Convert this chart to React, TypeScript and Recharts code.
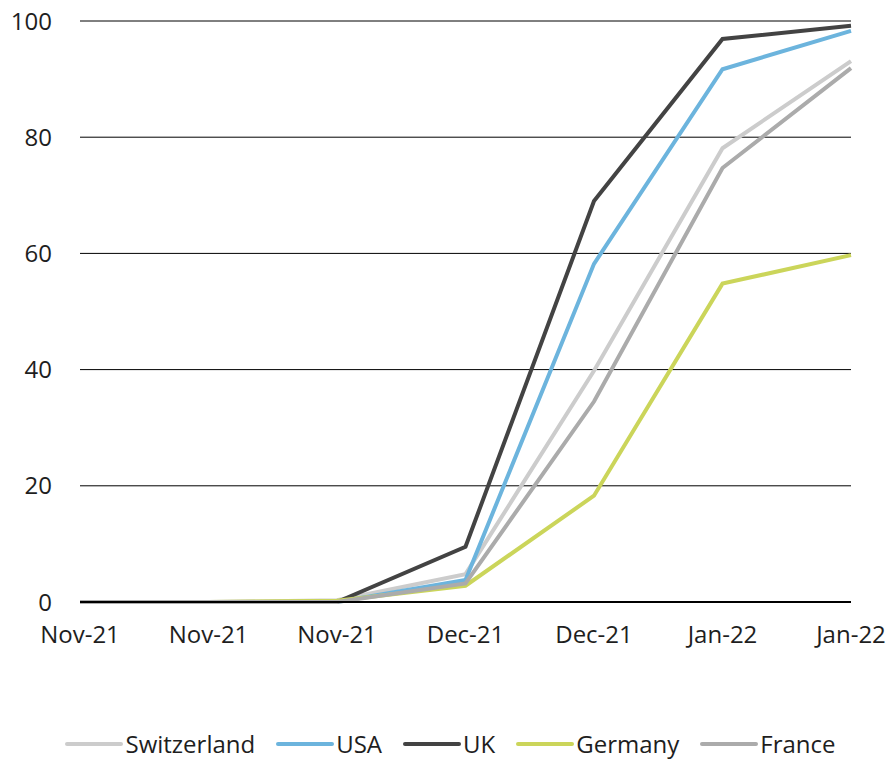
import { LineChart, Line, XAxis, YAxis, CartesianGrid, Legend } from "recharts";

const periods = ["Nov-21", "Nov-21", "Nov-21", "Dec-21", "Dec-21", "Jan-22", "Jan-22"];

const switzerland = [0, 0, 0.3, 4.8, 39.8, 78.1, 93.1];
const usa = [0, 0, 0, 3.8, 58.2, 91.7, 98.3];
const uk = [0, 0, 0, 9.5, 69.0, 96.9, 99.2];
const germany = [0, 0, 0.2, 2.8, 18.3, 54.8, 59.7];
const france = [0, 0, 0, 3.2, 34.5, 74.7, 91.9];

const yTicks = [0, 20, 40, 60, 80, 100];

const series = [
  { key: "Switzerland", color: "#cccccc" },
  { key: "USA", color: "#6cb4dd" },
  { key: "UK", color: "#434343" },
  { key: "Germany", color: "#cbd55a" },
  { key: "France", color: "#ababab" },
];

const data = periods.map((p, i) => ({
  idx: i,
  period: p,
  Switzerland: switzerland[i],
  USA: usa[i],
  UK: uk[i],
  Germany: germany[i],
  France: france[i],
}));

const FONT = "'Open Sans', 'DejaVu Sans', sans-serif";

function LegendRow() {
  return (
    <div
      style={{
        display: "flex",
        justifyContent: "center",
        alignItems: "center",
        fontFamily: FONT,
        fontSize: 24,
        color: "#1e1e1e",
        gap: 21,
        paddingLeft: 50,
      }}
    >
      {series.map((s) => (
        <div key={s.key} style={{ display: "flex", alignItems: "center" }}>
          <svg width={58} height={10} style={{ marginRight: 2 }}>
            <line x1={2} y1={5} x2={56} y2={5} stroke={s.color} strokeWidth={4} strokeLinecap="round" />
          </svg>
          <span>{s.key}</span>
        </div>
      ))}
    </div>
  );
}

export default function App() {
  return (
    <div style={{ position: "absolute", left: 0, top: 0, background: "#fff" }}>
      <LineChart
        width={888}
        height={760}
        data={data}
        margin={{ top: 21, right: 37, bottom: 0, left: 0 }}
      >
        <CartesianGrid vertical={false} stroke="#000" strokeWidth={1} />
        <XAxis
          dataKey="idx"
          tickFormatter={(i) => periods[i]}
          interval={0}
          height={125}
          tick={{ fill: "#1e1e1e", fontSize: 24, fontFamily: FONT }}
          axisLine={{ stroke: "#000", strokeWidth: 2 }}
          tickLine={false}
          tickMargin={18}
        />
        <YAxis
          domain={[0, 100]}
          ticks={yTicks}
          width={80}
          tick={{ fill: "#1e1e1e", fontSize: 24, fontFamily: FONT }}
          axisLine={false}
          tickLine={false}
          tickMargin={22}
        />
        <Legend verticalAlign="bottom" content={() => <LegendRow />} />
        {series.map((s) => (
          <Line
            key={s.key}
            dataKey={s.key}
            stroke={s.color}
            strokeWidth={4}
            dot={false}
            type="linear"
            isAnimationActive={false}
          />
        ))}
      </LineChart>
    </div>
  );
}
